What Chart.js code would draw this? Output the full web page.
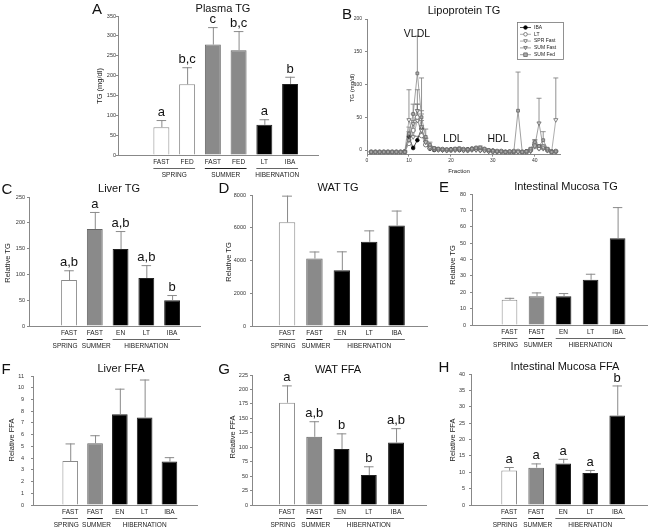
<!DOCTYPE html>
<html>
<head>
<meta charset="utf-8">
<script src="https://cdn.jsdelivr.net/npm/chart.js@4/dist/chart.umd.min.js"></script>
<style>
body{margin:0;background:#fff;}
#fig{position:relative;width:662px;height:531px;overflow:hidden;background:#fff;font-family:'Liberation Sans',Arial,sans-serif;color:#111;}
#fig canvas{position:absolute;}
.t{position:absolute;white-space:nowrap;transform:translate(-50%,-50%);line-height:1;}
.pl{font-size:15px;}
.ti{font-size:11px;}
.yt{font-size:7.5px;transform:translate(-50%,-50%) rotate(-90deg);color:#222;}
.sm{font-size:6px;color:#222;}
.lp{font-size:10.5px;}
</style>
</head>
<body>
<div id="fig"></div>
<script>
// figure: plasma / lipoprotein / tissue TG and FFA panels

// --- A: plasma TG
const plasmaLabels = ['FAST','FED','FAST','FED','LT','IBA'];
const plasmaTG = [70,178,278,264,76,179];
const plasmaErr = [18,43,44,48,14,18];
const plasmaSig = ['a','b,c','c','b,c','a','b'];
const plasmaGroups = [['SPRING',0,1],['SUMMER',2,3],['HIBERNATION',4,5]];

// --- C..H share the same five groups
const tissueLabels = ['FAST','FAST','EN','LT','IBA'];
const tissueGroups = [['SPRING',0,0],['SUMMER',1,1],['HIBERNATION',2,4]];

const liverTG = [89,188,149,93,50];
const liverTGErr = [19,33,35,25,10];
const liverTGSig = ['a,b','a','a,b','a,b','b'];

const watTG = [6330,4120,3410,5140,6130];
const watTGErr = [1630,430,1150,700,920];

const mucosaTG = [15.4,17.6,17.5,27.6,53];
const mucosaTGErr = [1.2,2.3,2,3.7,19];

const liverFFA = [3.75,5.27,7.74,7.46,3.7];
const liverFFAErr = [1.5,0.68,2.18,3.24,0.38];

const watFFA = [177,118,97,52,108];
const watFFAErr = [30,27,27,15,25];
const watFFASig = ['a','a,b','b','b','a,b'];

const mucosaFFA = [10.5,11.4,12.7,9.8,27.3];
const mucosaFFAErr = [1.1,1.3,1.4,0.9,9.2];
const mucosaFFASig = ['a','a','a','a','b'];

// --- B: lipoprotein TG by fraction
const fractions = [1,2,3,4,5,6,7,8,9,10,11,12,13,14,15,16,17,18,19,20,21,22,23,24,25,26,27,28,29,30,31,32,33,34,35,36,37,38,39,40,41,42,43,44,45];
const ibaTG     = [-3,-3,-3,-3,-3,-3,-3,-3,-2,20,3,15,33,8,2,0,1,0,0,1,1,0,0,1,2,1,0,0,-1,-1,-2,-2,-3,-3,-3,-2,-3,-2,0,8,5,3,0,-2,-2];
const ibaErr    = [0,0,0,0,0,0,0,0,0,8,3,6,12,4,1,0,0,0,0,0,0,0,0,0,0,0,0,0,0,0,0,0,0,0,0,0,0,0,0,4,2,1,0,0,0];
const ltTG      = [-3,-3,-3,-3,-3,-3,-3,-3,-3,10,30,50,22,8,3,2,1,1,0,0,1,2,1,0,1,3,2,1,-1,-2,-2,-2,-3,-3,-2,-2,-3,-3,0,10,3,5,0,-3,-2];
const ltErr     = [0,0,0,0,0,0,0,0,0,5,15,20,15,5,2,1,0,0,0,0,0,1,0,0,0,1,1,0,0,0,0,0,0,0,0,0,0,0,1,5,2,3,0,0,0];
const sprFastTG = [-4,-4,-4,-4,-4,-4,-4,-4,-3,46,20,45,30,12,4,2,1,0,0,0,0,1,0,-1,0,1,0,-1,-2,-2,-3,-3,-3,-4,-3,-3,-4,-4,-2,5,2,2,-1,-3,46];
const sprFastErr= [0,0,0,0,0,0,0,0,0,46,10,25,30,6,2,0,0,0,0,0,0,0,0,0,0,0,0,0,0,0,0,0,0,0,0,0,0,0,0,3,1,1,0,0,64];
const sumFastTG = [-4,-4,-4,-4,-4,-4,-4,-4,-3,15,40,60,35,12,4,1,0,0,-1,0,0,0,-1,0,1,0,-1,-1,-2,-3,-3,-3,-4,-3,-3,-3,-4,-3,-1,6,41,4,0,-4,-3];
const sumFastErr= [0,0,0,0,0,0,0,0,0,6,15,32,20,6,2,0,0,0,0,0,0,0,0,0,0,0,0,0,0,0,0,0,0,0,0,0,0,0,0,3,38,3,0,0,0];
const sumFedTG  = [-3,-3,-3,-3,-3,-3,-3,-3,-3,25,55,117,50,20,8,3,2,1,1,1,2,2,1,1,2,3,4,2,0,-1,-2,-2,-3,-2,-2,60,-3,-2,2,12,6,15,2,-3,-2];
const sumFedErr = [0,0,0,0,0,0,0,0,0,10,15,57,60,12,4,1,0,0,0,0,0,0,0,0,0,1,2,0,0,0,0,0,0,0,0,59,0,0,1,4,2,13,1,0,0];

Chart.defaults.font.family = "'Liberation Sans', Arial, sans-serif";
const fig = document.getElementById('fig');

const WHITE='#ffffff', GREY='#8a8a8a', BLACK='#000000';

function txt(s,x,y,cls){
  const d=document.createElement('div');
  d.className='t '+cls; d.textContent=s;
  d.style.left=x+'px'; d.style.top=y+'px';
  fig.appendChild(d);
}
function mkCanvas(b){
  const cv=document.createElement('canvas');
  cv.width=b.w; cv.height=b.h;
  cv.style.left=b.l+'px'; cv.style.top=b.t+'px';
  cv.style.width=b.w+'px'; cv.style.height=b.h+'px';
  fig.appendChild(cv);
  return cv;
}

// error bars (upward) + significance letters
const errPlugin = {
  id:'errBars',
  afterDatasetsDraw(chart,args,opts){
    const ctx=chart.ctx, xs=chart.scales.x, ys=chart.scales.y;
    const meta=chart.getDatasetMeta(0);
    ctx.save();
    opts.errs.forEach((e,i)=>{
      const bar=meta.data[i];
      const x=xs.getPixelForValue(i);
      const yb=ys.getPixelForValue(opts.values[i]);
      const yt=ys.getPixelForValue(opts.values[i]+e);
      const hw=bar.width*0.3;
      ctx.strokeStyle='#8a8a8a'; ctx.lineWidth=1;
      ctx.beginPath();
      ctx.moveTo(x+0.5,yb); ctx.lineTo(x+0.5,yt);
      ctx.moveTo(x-hw,yt+0.5); ctx.lineTo(x+hw,yt+0.5);
      ctx.stroke();
      if(opts.sig){
        ctx.fillStyle='#111'; ctx.font="13px 'Liberation Sans', Arial";
        ctx.textAlign='center'; ctx.textBaseline='bottom';
        ctx.fillText(opts.sig[i],x,yt-1);
      }
    });
    ctx.restore();
  }
};

// season group labels under the axis
const groupPlugin = {
  id:'groups',
  afterDraw(chart,args,opts){
    const ctx=chart.ctx, xs=chart.scales.x, a=chart.chartArea;
    const hw=chart.getDatasetMeta(0).data[0].width/2;
    ctx.save();
    opts.groups.forEach(([name,from,to],k)=>{
      const x0=xs.getPixelForValue(from)-hw, x1=xs.getPixelForValue(to)+hw;
      ctx.strokeStyle=k===1?'#222':'#666'; ctx.lineWidth=1;
      ctx.beginPath(); ctx.moveTo(x0,a.bottom+13.5); ctx.lineTo(x1,a.bottom+13.5); ctx.stroke();
      ctx.fillStyle='#222'; ctx.font="6.5px 'Liberation Sans', Arial";
      ctx.textAlign='center'; ctx.textBaseline='middle';
      ctx.fillText(name,(x0+x1)/2+(opts.shift?opts.shift[k]:0),a.bottom+20);
    });
    ctx.restore();
  }
};

function barPanel(o){
  const b=o.box, a=o.area;
  const cv=mkCanvas(b);
  const borders=o.fills.map(c=>c===WHITE?'#8a8a8a':(c===GREY?'#666':'#222'));
  new Chart(cv,{
    type:'bar',
    data:{datasets:[{
      data:o.values.map((v,i)=>({x:i,y:v})),
      backgroundColor:o.fills, borderColor:borders, borderWidth:1,
      barPercentage:1, categoryPercentage:o.bw
    }]},
    options:{
      responsive:false, animation:false, events:[],
      layout:{padding:{left:0,top:a.y0-b.t,right:b.l+b.w-a.x1,bottom:0}},
      plugins:{
        legend:{display:false}, tooltip:{enabled:false},
        errBars:{values:o.values,errs:o.errs,sig:o.sig},
        groups:{groups:o.groups,shift:o.shift}
      },
      scales:{
        x:{type:'linear',min:o.xmin,max:o.xmax,grid:{display:false,drawTicks:false,tickLength:0},border:{color:'#888'},
          ticks:{stepSize:1,includeBounds:false,autoSkip:false,maxRotation:0,padding:3,
            font:{size:6.5},color:'#222',callback:v=>o.labels[v]===undefined?'':o.labels[v]},
          afterFit:s=>{s.height=b.t+b.h-a.y1;}},
        y:{min:0,max:o.ymax,grid:{drawOnChartArea:false,tickLength:2,color:'#888'},border:{color:'#888'},
          ticks:{stepSize:o.step,padding:o.tp,font:{size:5.5},color:'#333',callback:v=>String(v)},
          afterFit:s=>{s.width=a.x0-b.l;}}
      }
    },
    plugins:[errPlugin,groupPlugin]
  });
}

const tissueFill=[WHITE,GREY,BLACK,BLACK,BLACK];
const tissueShift=[-4,1.5,0];

// A
barPanel({box:{l:100,t:6,w:225,h:180},area:{x0:118,x1:318,y0:16,y1:155},
  values:plasmaTG,errs:plasmaErr,sig:plasmaSig,labels:plasmaLabels,groups:plasmaGroups,
  fills:[WHITE,WHITE,GREY,GREY,BLACK,BLACK],xmin:-1.13,xmax:5.53,bw:0.62,ymax:350,step:50,tp:0});
// C
barPanel({box:{l:0,t:182,w:215,h:170},area:{x0:29,x1:200,y0:197,y1:326},
  values:liverTG,errs:liverTGErr,sig:liverTGSig,labels:tissueLabels,groups:tissueGroups,shift:tissueShift,
  fills:tissueFill,xmin:-1.0,xmax:4.53,bw:0.615,ymax:250,step:50,tp:2});
// D
barPanel({box:{l:225,t:182,w:215,h:170},area:{x0:252,x1:427,y0:195,y1:326},
  values:watTG,errs:watTGErr,labels:tissueLabels,groups:tissueGroups,shift:tissueShift,
  fills:tissueFill,xmin:-0.64,xmax:4.47,bw:0.6,ymax:8000,step:2000,tp:4});
// E
barPanel({box:{l:445,t:182,w:217,h:170},area:{x0:472,x1:647,y0:194,y1:325},
  values:mucosaTG,errs:mucosaTGErr,labels:tissueLabels,groups:tissueGroups,shift:tissueShift,
  fills:tissueFill,xmin:-0.74,xmax:4.44,bw:0.58,ymax:80,step:10,tp:4});
// F
barPanel({box:{l:0,t:362,w:215,h:169},area:{x0:33,x1:197,y0:376,y1:505},
  values:liverFFA,errs:liverFFAErr,labels:tissueLabels,groups:tissueGroups,shift:tissueShift,
  fills:tissueFill,xmin:-0.84,xmax:4.45,bw:0.63,ymax:11,step:1,tp:7});
// G
barPanel({box:{l:225,t:362,w:215,h:169},area:{x0:252,x1:426,y0:375,y1:505},
  values:watFFA,errs:watFFAErr,sig:watFFASig,labels:tissueLabels,groups:tissueGroups,shift:tissueShift,
  fills:tissueFill,xmin:-0.645,xmax:4.46,bw:0.585,ymax:225,step:25,tp:2});
// H
barPanel({box:{l:445,t:362,w:217,h:169},area:{x0:471,x1:647,y0:374,y1:505},
  values:mucosaFFA,errs:mucosaFFAErr,sig:mucosaFFASig,labels:tissueLabels,groups:tissueGroups,shift:tissueShift,
  fills:tissueFill,xmin:-0.76,xmax:4.45,bw:0.58,ymax:40,step:5,tp:4});

// --- B: lipoprotein profile
function marker(ctx,style,x,y,r){
  ctx.beginPath();
  if(style==='circle'){ ctx.arc(x,y,r,0,Math.PI*2); }
  else if(style==='rect'){ ctx.rect(x-r,y-r,2*r,2*r); }
  else { // triangle pointing down
    ctx.moveTo(x-r,y-r*0.8); ctx.lineTo(x+r,y-r*0.8); ctx.lineTo(x,y+r); ctx.closePath();
  }
  ctx.fill(); ctx.stroke();
}
const legendBox = {
  id:'legendBox',
  afterDraw(chart,args,o){
    const ctx=chart.ctx;
    ctx.save();
    ctx.fillStyle='#fff'; ctx.fillRect(o.x,o.y,o.w,o.h);
    ctx.strokeStyle='#777'; ctx.lineWidth=0.8; ctx.strokeRect(o.x+0.5,o.y+0.5,o.w,o.h);
    chart.data.datasets.forEach((ds,i)=>{
      const y=o.y+5.5+i*6.8;
      ctx.strokeStyle=ds.borderColor; ctx.lineWidth=0.8;
      ctx.beginPath(); ctx.moveTo(o.x+3,y); ctx.lineTo(o.x+14,y); ctx.stroke();
      ctx.fillStyle=ds.pointBackgroundColor; ctx.strokeStyle=ds.pointBorderColor;
      marker(ctx,ds.pointStyle,o.x+8.5,y,1.8);
      ctx.fillStyle='#222'; ctx.font="5px 'Liberation Sans', Arial";
      ctx.textAlign='left'; ctx.textBaseline='middle';
      ctx.fillText(ds.label,o.x+17,y);
    });
    ctx.restore();
  }
};
const lineErr = {
  id:'lineErr',
  beforeDatasetsDraw(chart){
    const ctx=chart.ctx, xs=chart.scales.x, ys=chart.scales.y;
    ctx.save(); ctx.strokeStyle='#777'; ctx.lineWidth=0.8;
    chart.data.datasets.forEach(ds=>{
      ds.errs.forEach((e,i)=>{
        if(!e) return;
        const x=xs.getPixelForValue(fractions[i]);
        const y0=ys.getPixelForValue(ds.data[i].y), y1=ys.getPixelForValue(ds.data[i].y+e);
        ctx.beginPath(); ctx.moveTo(x,y0); ctx.lineTo(x,y1);
        ctx.moveTo(x-2.5,y1); ctx.lineTo(x+2.5,y1); ctx.stroke();
      });
    });
    ctx.restore();
  }
};
function series(label,vals,errs,line,pt,fill,edge,rot,order,r){
  return {label,data:vals.map((v,i)=>({x:fractions[i],y:v})),errs,order,
    borderColor:line,borderWidth:0.8,pointStyle:pt,pointRotation:rot,
    pointBackgroundColor:fill,pointBorderColor:edge,pointBorderWidth:0.8,pointRadius:r,tension:0};
}
const bBox={l:345,t:12,w:222,h:152}, bArea={x0:367,x1:560,y0:19,y1:154.6};
new Chart(mkCanvas(bBox),{
  type:'line',
  data:{datasets:[
    series('IBA',ibaTG,ibaErr,'#222','circle','#000','#000',0,4,1.8),
    series('LT',ltTG,ltErr,'#999','circle','#fff','#666',0,3,2.2),
    series('SPR Fast',sprFastTG,sprFastErr,'#999','triangle','#fff','#666',180,2,2.4),
    series('SUM Fast',sumFastTG,sumFastErr,'#888','triangle','#ccc','#666',180,1,2.4),
    series('SUM Fed',sumFedTG,sumFedErr,'#888','rect','#aaa','#666',0,0,2)
  ]},
  options:{
    responsive:false, animation:false, events:[],
    layout:{padding:{left:0,top:bArea.y0-bBox.t,right:bBox.l+bBox.w-bArea.x1,bottom:0}},
    plugins:{legend:{display:false},tooltip:{enabled:false},
      legendBox:{x:517-bBox.l,y:22-bBox.t,w:46,h:37}},
    scales:{
      x:{type:'linear',min:0,max:46,grid:{drawOnChartArea:false,tickLength:2,color:'#888'},border:{color:'#888'},
        ticks:{stepSize:10,includeBounds:false,padding:1,font:{size:5},color:'#333',maxRotation:0},
        afterFit:s=>{s.height=bBox.t+bBox.h-bArea.y1;}},
      y:{min:-7,max:200,grid:{drawOnChartArea:false,tickLength:2,color:'#888'},border:{color:'#888'},
        ticks:{stepSize:50,includeBounds:false,padding:3,font:{size:5},color:'#333'},
        afterFit:s=>{s.width=bArea.x0-bBox.l;}}
    }
  },
  plugins:[lineErr,legendBox]
});

// --- titles and axis labels
txt('A',97,8,'pl');  txt('Plasma TG',223,8,'ti');       txt('TG (mg/dl)',100,86,'yt');
txt('B',347,13,'pl'); txt('Lipoprotein TG',464,10,'ti'); txt('TG (mg/dl)',352,88,'yt sm');
txt('Fraction',459,171,'sm');
txt('VLDL',417,33,'lp'); txt('LDL',453,138,'lp'); txt('HDL',498,138,'lp');
txt('C',7,188,'pl');   txt('Liver TG',119,188,'ti');             txt('Relative TG',8,263,'yt');
txt('D',224,187,'pl'); txt('WAT TG',338,187,'ti');               txt('Relative TG',229,262,'yt');
txt('E',444,186,'pl'); txt('Intestinal Mucosa TG',566,186,'ti'); txt('Relative TG',453,265,'yt');
txt('F',6,368,'pl');   txt('Liver FFA',121,368,'ti');            txt('Relative FFA',12,440,'yt');
txt('G',224,368,'pl'); txt('WAT FFA',338,369,'ti');              txt('Relative FFA',233,437,'yt');
txt('H',444,366,'pl'); txt('Intestinal Mucosa FFA',565,366,'ti'); txt('Relative FFA',453,440,'yt');
</script>
</body>
</html>
